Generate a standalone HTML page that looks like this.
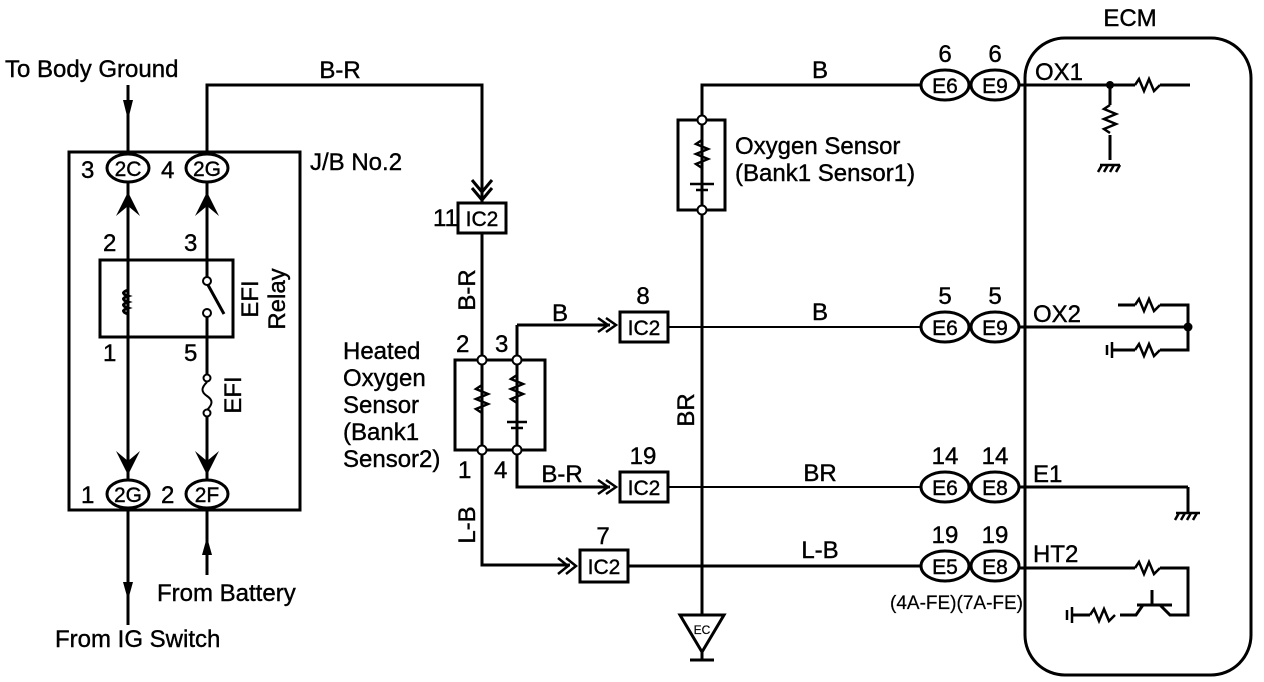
<!DOCTYPE html>
<html><head><meta charset="utf-8"><style>
html,body{margin:0;padding:0;background:#fff;}
svg{display:block;}
text{font-family:"Liberation Sans",sans-serif;font-size:24px;fill:#000;stroke:#000;stroke-width:0.4;}
.o{font-size:21px;}
.s{font-size:19px;stroke-width:0.2;}
</style></head><body>
<svg width="1264" height="682" viewBox="0 0 1264 682" xmlns="http://www.w3.org/2000/svg">
<g stroke="#000" stroke-width="3" fill="none">
<rect x="69" y="152" width="231" height="358"/>
<line x1="128" y1="85" x2="128" y2="155"/>
<polyline points="207,155 207,85 482,85 482,202"/>
<polyline points="472,180 482,192 492,180"/>
<polyline points="472,188 482,200 492,188"/>
<rect x="100" y="260" width="133" height="77"/>
<line x1="128" y1="181" x2="128" y2="481"/>
<line x1="207" y1="181" x2="207" y2="277"/>
<line x1="207" y1="317" x2="207" y2="378"/>
<line x1="207" y1="412" x2="207" y2="481"/>
<line x1="208" y1="285" x2="224" y2="314"/>
<path d="M128,290 c-6,2 -6,4 0,6 c-6,2 -6,4 0,6 c-6,2 -6,4 0,6 c-6,2 -6,4 0,6" stroke-width="3"/>
<path d="M207,382 c-6,6 -6,10 0,14 c6,4 6,8 0,14" stroke-width="2"/>
<line x1="128" y1="507" x2="128" y2="625"/>
<line x1="207" y1="507" x2="207" y2="575"/>
<rect x="458" y="203" width="48" height="30"/>
<line x1="482" y1="233" x2="482" y2="357"/>
<rect x="455" y="360" width="90" height="90"/>
<line x1="482" y1="364" x2="482" y2="446"/>
<line x1="517" y1="364" x2="517" y2="446"/>
<polyline points="517,325 517,357" />
<polyline points="517,325 610,325"/>
<polyline points="517,454 517,487 610,487"/>
<polyline points="482,454 482,565 570,565"/>
<rect x="620" y="312" width="48" height="30"/>
<rect x="620" y="472" width="48" height="30"/>
<rect x="580" y="550" width="48" height="32"/>
<line x1="668" y1="327" x2="922" y2="327" stroke-width="2"/>
<line x1="668" y1="487" x2="922" y2="487" stroke-width="2"/>
<line x1="628" y1="566" x2="922" y2="566"/>
<polyline points="922,85 702,85 702,116"/>
<rect x="678" y="120" width="47" height="90"/>
<line x1="702" y1="124" x2="702" y2="206"/>
<line x1="702" y1="214" x2="702" y2="615"/>
<polygon points="680,615 724,615 702,652"/>
<line x1="702" y1="652" x2="702" y2="660"/>
<line x1="690" y1="660" x2="714" y2="660"/>
<rect x="1025" y="38" width="226" height="637" rx="40"/>
<line x1="1020" y1="85" x2="1135" y2="85"/>
<line x1="1160" y1="85" x2="1190" y2="85"/>
<line x1="1110" y1="85" x2="1110" y2="105"/>
<line x1="1110" y1="135" x2="1110" y2="160"/>
<line x1="1020" y1="327" x2="1188" y2="327"/>
<polyline points="1118,305 1135,305"/><polyline points="1160,305 1188,305 1188,350 1160,350"/>
<line x1="1112" y1="350" x2="1135" y2="350"/>
<line x1="1020" y1="487" x2="1188" y2="487"/>
<line x1="1188" y1="487" x2="1188" y2="513"/>
<line x1="1020" y1="568" x2="1135" y2="568"/>
<polyline points="1160,568 1188,568 1188,615 1170,615 1160,605"/>
<line x1="1152" y1="590" x2="1152" y2="605"/>
<line x1="1137" y1="605" x2="1172" y2="605"/>
<polyline points="1143,605 1136,615 1120,615"/>
<line x1="1072" y1="615" x2="1090" y2="615"/>
</g>
<g stroke="#000" stroke-width="2.5" fill="none">
<path d="M482,385 l-6,4 l12,5 l-12,5 l12,5 l-12,5 l6,4"/>
<path d="M517,375 l-6,4 l12,5 l-12,5 l12,5 l-12,5 l6,4 v10"/>
<line x1="507" y1="422" x2="527" y2="422"/><line x1="511" y1="428" x2="523" y2="428"/>
<path d="M702,140 l-6,4 l12,5 l-12,5 l12,5 l-12,5 l6,4 v8"/>
<line x1="690" y1="184" x2="714" y2="184"/><line x1="696" y1="190" x2="708" y2="190"/>
<path d="M1135,85 l4,-6 l5,12 l5,-12 l5,12 l6,-6"/>
<path d="M1110,105 l-6,4 l12,5 l-12,5 l12,5 l-12,5 l6,4"/>
<path d="M1135,305 l4,-6 l5,12 l5,-12 l5,12 l6,-6"/>
<path d="M1135,350 l4,-6 l5,12 l5,-12 l5,12 l6,-6"/>
<path d="M1135,568 l4,-6 l5,12 l5,-12 l5,12 l6,-6"/>
<path d="M1090,615 l4,-6 l5,12 l5,-12 l5,12 l6,-6"/>
<line x1="1112" y1="342" x2="1112" y2="358"/><line x1="1107" y1="345" x2="1107" y2="355"/>
<line x1="1072" y1="607" x2="1072" y2="623"/><line x1="1067" y1="610" x2="1067" y2="620"/>
<line x1="1100" y1="165" x2="1120" y2="165"/>
<path d="M1102,165 l-4,7 M1108,165 l-4,7 M1114,165 l-4,7 M1120,165 l-4,7"/>
<line x1="1176" y1="513" x2="1200" y2="513"/>
<path d="M1179,513 l-4,7 M1185,513 l-4,7 M1191,513 l-4,7 M1197,513 l-4,7"/>
</g>
<g stroke="#000" stroke-width="2.5" fill="none">
<polyline points="598,318 608,325 598,332"/><polyline points="606,318 616,325 606,332"/>
<polyline points="598,480 608,487 598,494"/><polyline points="606,480 616,487 606,494"/>
<polyline points="558,558 568,566 558,574"/><polyline points="566,558 576,566 566,574"/>
</g>
<g fill="#000">
<path d="M116,216 L128,192 L140,216 L128,206 z"/><path d="M195,216 L207,192 L219,216 L207,206 z"/>
<path d="M116,451 L128,475 L140,451 L128,461 z"/><path d="M195,451 L207,475 L219,451 L207,461 z"/>
<path d="M123,100 L133,100 L128,120 z"/>
<path d="M123,582 L133,582 L128,600 z"/>
<path d="M202,555 L212,555 L207,537 z"/>
<circle cx="1110" cy="85" r="4"/><circle cx="1188" cy="327" r="4.5"/>
</g>
<g stroke="#000" stroke-width="2" fill="#fff">
<circle cx="207" cy="281" r="4"/><circle cx="207" cy="313" r="4"/>
<circle cx="207" cy="378" r="3.5"/><circle cx="207" cy="413" r="3.5"/>
<circle cx="482" cy="360" r="4.5"/><circle cx="517" cy="360" r="4.5"/>
<circle cx="482" cy="450" r="4.5"/><circle cx="517" cy="450" r="4.5"/>
<circle cx="702" cy="120" r="4.5"/><circle cx="702" cy="210" r="4.5"/>
</g>
<g stroke="#000" stroke-width="3" fill="#fff">
<ellipse cx="128" cy="168" rx="21" ry="14"/><ellipse cx="207" cy="168" rx="21" ry="14"/>
<ellipse cx="128" cy="494" rx="21" ry="14"/><ellipse cx="207" cy="494" rx="21" ry="14"/>
<ellipse cx="945" cy="85" rx="24" ry="15"/><ellipse cx="995" cy="85" rx="24" ry="15"/>
<ellipse cx="945" cy="327" rx="24" ry="15"/><ellipse cx="995" cy="327" rx="24" ry="15"/>
<ellipse cx="945" cy="487" rx="24" ry="15"/><ellipse cx="995" cy="487" rx="24" ry="15"/>
<ellipse cx="945" cy="566" rx="24" ry="15"/><ellipse cx="995" cy="566" rx="24" ry="15"/>
</g>
<g text-anchor="middle">
<text class="o" x="128" y="176">2C</text><text class="o" x="207" y="176">2G</text>
<text class="o" x="128" y="502">2G</text><text class="o" x="207" y="502">2F</text>
<text class="o" x="482" y="226">IC2</text><text class="o" x="644" y="335">IC2</text><text class="o" x="644" y="495">IC2</text><text class="o" x="604" y="574">IC2</text>
<text class="o" x="945" y="93">E6</text><text class="o" x="995" y="93">E9</text>
<text class="o" x="945" y="335">E6</text><text class="o" x="995" y="335">E9</text>
<text class="o" x="945" y="495">E6</text><text class="o" x="995" y="495">E8</text>
<text class="o" x="945" y="574">E5</text><text class="o" x="995" y="574">E8</text>
<text x="945" y="62">6</text><text x="995" y="62">6</text>
<text x="945" y="304">5</text><text x="995" y="304">5</text>
<text x="945" y="464">14</text><text x="995" y="464">14</text>
<text x="945" y="543">19</text><text x="995" y="543">19</text>
<text x="643" y="304">8</text><text x="643" y="464">19</text><text x="603" y="544">7</text>
<text x="340" y="78">B-R</text><text x="820" y="78">B</text><text x="820" y="320">B</text>
<text x="820" y="481">BR</text><text x="820" y="558">L-B</text>
<text x="560" y="321">B</text><text x="562" y="482">B-R</text>
<text x="1130" y="26">ECM</text>
<text x="702" y="634" style="font-size:12px;stroke-width:0.2">EC</text>
</g>
<text x="5" y="77">To Body Ground</text>
<text x="310" y="170">J/B No.2</text>
<text x="81" y="178">3</text><text x="161" y="178">4</text>
<text x="103" y="251">2</text><text x="184" y="251">3</text>
<text x="103" y="361">1</text><text x="184" y="361">5</text>
<text x="81" y="503">1</text><text x="161" y="503">2</text>
<text x="55" y="647">From IG Switch</text>
<text x="157" y="601">From Battery</text>
<text x="433" y="226">11</text>
<text x="456" y="352">2</text><text x="495" y="352">3</text>
<text x="458" y="478">1</text><text x="494" y="478">4</text>
<text x="343" y="359">Heated</text><text x="343" y="386">Oxygen</text><text x="343" y="413">Sensor</text><text x="343" y="440">(Bank1</text><text x="343" y="467">Sensor2)</text>
<text x="735" y="154">Oxygen Sensor</text><text x="735" y="181">(Bank1 Sensor1)</text>
<text x="1035" y="80">OX1</text><text x="1033" y="322">OX2</text><text x="1033" y="482">E1</text><text x="1033" y="562">HT2</text>
<text x="890" y="609" class="s">(4A-FE)(7A-FE)</text>
<text transform="translate(258,299) rotate(-90)" text-anchor="middle">EFI</text>
<text transform="translate(285,299) rotate(-90)" text-anchor="middle">Relay</text>
<text transform="translate(241,395) rotate(-90)" text-anchor="middle">EFI</text>
<text transform="translate(475,290) rotate(-90)" text-anchor="middle">B-R</text>
<text transform="translate(475,525) rotate(-90)" text-anchor="middle">L-B</text>
<text transform="translate(694,410) rotate(-90)" text-anchor="middle">BR</text>
</svg>
</body></html>
